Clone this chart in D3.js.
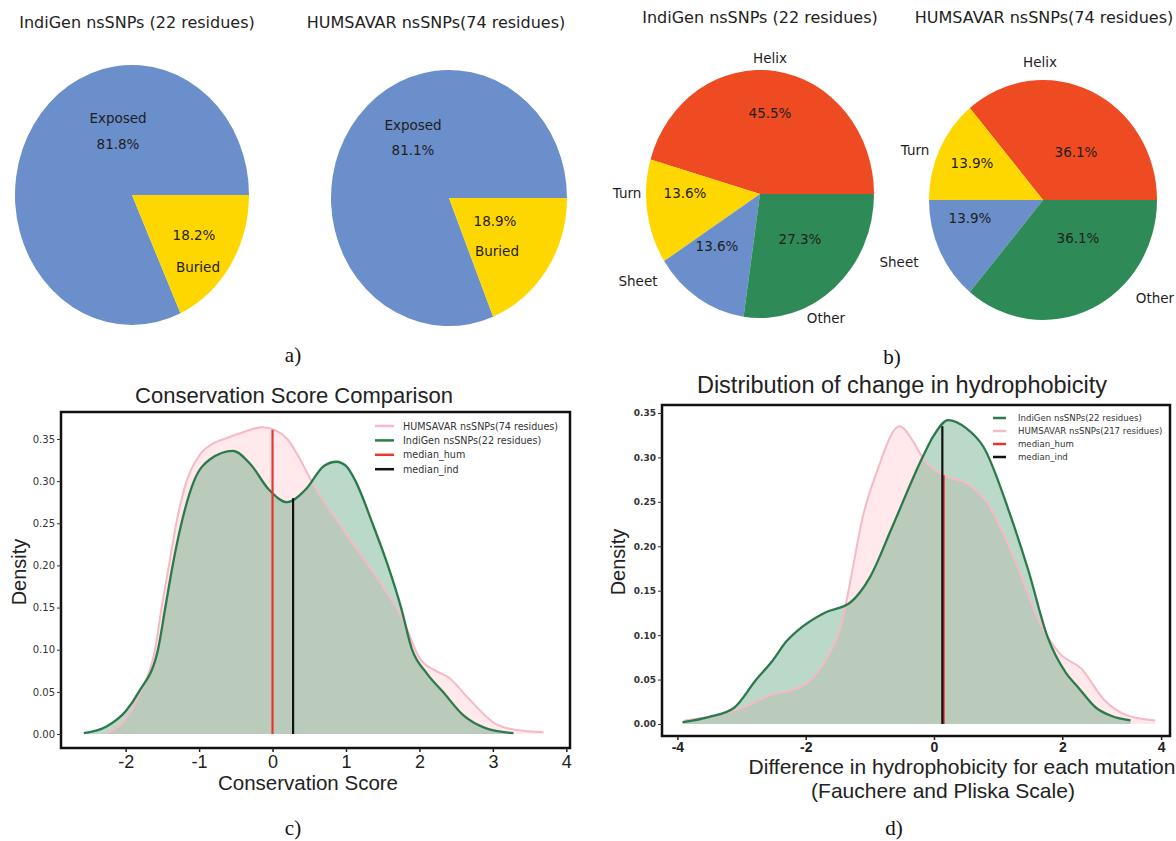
<!DOCTYPE html>
<html>
<head>
<meta charset="utf-8">
<script src="https://cdn.jsdelivr.net/npm/d3@7"></script>
<style>
  body { margin: 0; background: #fff; }
  svg { display: block; }
</style>
</head>
<body>
<svg id="fig" width="1176" height="841"></svg>
<script>
// ---- data ----
const exposureLabels = ['Exposed', 'Buried']
const exposureIndiGen = [81.8, 18.2]
const exposureHumsavar = [81.1, 18.9]

const structureLabels = ['Helix', 'Turn', 'Sheet', 'Other']
const structureIndiGen = [45.5, 13.6, 13.6, 27.3]
const structureHumsavar = [36.1, 13.9, 13.9, 36.1]

// conservation score densities [score, density]
const consHumsavar = [
  [-2.25, 0.002], [-2.08, 0.01], [-1.93, 0.027], [-1.8, 0.05], [-1.6, 0.10],
  [-1.51, 0.15], [-1.41, 0.20], [-1.31, 0.25], [-1.17, 0.30], [-1.0, 0.33],
  [-0.8, 0.345], [-0.66, 0.35], [-0.4, 0.358], [-0.14, 0.364], [0.05, 0.36],
  [0.2, 0.35], [0.43, 0.317], [0.53, 0.30], [0.95, 0.244], [1.46, 0.18],
  [1.78, 0.135], [2.0, 0.09], [2.2, 0.076], [2.4, 0.067], [2.66, 0.043],
  [3.02, 0.013], [3.3, 0.005], [3.69, 0.002]
]
const consIndiGen = [
  [-2.57, 0.001], [-2.26, 0.009], [-2.0, 0.027], [-1.82, 0.05], [-1.56, 0.10],
  [-1.46, 0.15], [-1.36, 0.20], [-1.24, 0.25], [-1.07, 0.30], [-0.85, 0.326],
  [-0.54, 0.336], [-0.3, 0.32], [-0.05, 0.29], [0.2, 0.275], [0.45, 0.29],
  [0.7, 0.318], [0.87, 0.323], [1.0, 0.318], [1.13, 0.30], [1.36, 0.25],
  [1.57, 0.20], [1.75, 0.15], [1.9, 0.10], [2.1, 0.072], [2.32, 0.05],
  [2.6, 0.022], [2.9, 0.007], [3.28, 0.001]
]
const consMedians = [0.0, 0.28] // median_hum, median_ind

// hydrophobicity change densities [difference, density]
const hydroIndiGen = [
  [-3.92, 0.002], [-3.5, 0.008], [-3.12, 0.018], [-2.77, 0.05], [-2.53, 0.07],
  [-2.3, 0.093], [-2.06, 0.109], [-1.71, 0.125], [-1.3, 0.137], [-1.0, 0.165],
  [-0.65, 0.222], [-0.18, 0.30], [0.0, 0.325], [0.22, 0.342], [0.5, 0.333],
  [0.77, 0.312], [1.18, 0.237], [1.47, 0.173], [1.77, 0.098], [2.08, 0.057],
  [2.31, 0.042], [2.69, 0.018], [3.0, 0.009], [3.38, 0.004]
]
const hydroHumsavar = [
  [-3.89, 0.004], [-3.59, 0.007], [-3.0, 0.018], [-2.53, 0.033], [-2.07, 0.042],
  [-1.83, 0.057], [-1.59, 0.085], [-1.47, 0.105], [-1.36, 0.14], [-1.28, 0.17],
  [-1.12, 0.23], [-0.88, 0.286], [-0.54, 0.335], [-0.3, 0.315], [-0.18, 0.30],
  [0.15, 0.28], [0.53, 0.27], [0.83, 0.249], [1.24, 0.188], [1.65, 0.114],
  [1.95, 0.08], [2.39, 0.062], [2.85, 0.027], [3.3, 0.010], [3.88, 0.004]
]
const hydroMedians = [0.15, 0.13] // median_hum, median_ind

const densityTicks = [0, 0.05, 0.10, 0.15, 0.20, 0.25, 0.30, 0.35]
const consTicks = [-2, -1, 0, 1, 2, 3, 4]
const hydroTicks = [-4, -2, 0, 2, 4]

// ---- colours ----
const blue = '#6b8fca'
const gold = '#fed700'
const red = '#ef4b22'
const green = '#2e8b57'
const lineGreen = '#2b7a4b'
const linePink = '#f6b9c5'

const svg = d3.select('#fig')
const sans = 'DejaVu Sans, sans-serif'
const arial = 'Liberation Sans, Arial, sans-serif'
const serif = 'Liberation Serif, Times New Roman, serif'

function drawPie(values, labels, colors, box) {
  const R = 100
  const pie = d3.pie().sort(null)
    .startAngle(Math.PI / 2)
    .endAngle(Math.PI / 2 - 2 * Math.PI)
  const arc = d3.arc().innerRadius(0).outerRadius(R)

  const g = svg.append('g')
    .attr('transform', `translate(${box.cx},${box.cy})`)

  g.append('g')
    .attr('transform', `scale(${box.rx / R},${box.ry / R})`)
    .selectAll('path')
    .data(pie(values))
    .join('path')
    .attr('d', arc)
    .attr('fill', (d, i) => colors[i])

  const txt = g.append('g')
    .attr('font-family', sans)
    .attr('font-size', 13.5)
    .attr('fill', '#1e1e1e')
    .attr('text-anchor', 'middle')
    .attr('dominant-baseline', 'central')

  labels.forEach((name, i) => {
    txt.append('text')
      .attr('x', box.names[i][0]).attr('y', box.names[i][1])
      .text(name)
    txt.append('text')
      .attr('x', box.pcts[i][0]).attr('y', box.pcts[i][1])
      .text(values[i].toFixed(1) + '%')
  })

  svg.append('text')
    .attr('x', box.cx + box.titleDx).attr('y', box.titleY)
    .attr('text-anchor', 'middle')
    .attr('font-family', sans)
    .attr('font-size', 16)
    .attr('fill', '#222')
    .text(box.title)
}

// a) exposure pies
drawPie(exposureIndiGen, exposureLabels, [blue, gold], {
  cx: 132, cy: 195, rx: 117, ry: 130,
  names: [[-14, -77], [66, 72]], pcts: [[-14, -51], [62, 40]],
  title: 'IndiGen nsSNPs (22 residues)', titleDx: 5, titleY: 28
})
drawPie(exposureHumsavar, exposureLabels, [blue, gold], {
  cx: 449, cy: 198, rx: 118, ry: 128,
  names: [[-36, -73], [48, 53]], pcts: [[-36, -48], [46, 23]],
  title: 'HUMSAVAR nsSNPs(74 residues)', titleDx: -13, titleY: 28
})

// b) secondary structure pies
drawPie(structureIndiGen, structureLabels, [red, gold, blue, green], {
  cx: 760, cy: 194, rx: 114, ry: 124,
  names: [[10, -136], [-133, -1], [-122, 87], [66, 124]],
  pcts: [[10, -81], [-75, -1], [-43, 52], [40, 45]],
  title: 'IndiGen nsSNPs (22 residues)', titleDx: 0, titleY: 23
})
drawPie(structureHumsavar, structureLabels, [red, gold, blue, green], {
  cx: 1043, cy: 200, rx: 114, ry: 120,
  names: [[-3, -138], [-128, -50], [-144, 62], [112, 98]],
  pcts: [[33, -48], [-71, -37], [-73, 18], [35, 38]],
  title: 'HUMSAVAR nsSNPs(74 residues)', titleDx: 1, titleY: 23
})

function densityAt(values, v) {
  const i = d3.bisector(d => d[0]).left(values, v)
  if (i <= 0) return values[0][1]
  if (i >= values.length) return values[values.length - 1][1]
  const a = values[i - 1], b = values[i]
  return a[1] + (b[1] - a[1]) * (v - a[0]) / (b[0] - a[0])
}

function drawDensity(cfg) {
  const { x, y, frame } = cfg
  const g = svg.append('g')

  const area = d3.area()
    .x(d => x(d[0])).y0(y(0)).y1(d => y(d[1]))
    .curve(d3.curveMonotoneX)
  const line = d3.line()
    .x(d => x(d[0])).y(d => y(d[1]))
    .curve(d3.curveMonotoneX)

  // fills first, then the outlines on top of both
  cfg.series.forEach(s => {
    g.append('path').datum(s.values)
      .attr('d', area)
      .attr('fill', s.fill)
  })
  cfg.series.forEach(s => {
    g.append('path').datum(s.values)
      .attr('d', line)
      .attr('fill', 'none')
      .attr('stroke', s.stroke)
      .attr('stroke-width', s.width)
  })

  cfg.medians.forEach(m => {
    g.append('line')
      .attr('x1', x(m.value)).attr('x2', x(m.value))
      .attr('y1', y(0)).attr('y2', y(densityAt(m.curve, m.value)))
      .attr('stroke', m.color)
      .attr('stroke-width', 2.2)
  })

  // frame
  g.append('rect')
    .attr('x', frame.x0).attr('y', frame.y0)
    .attr('width', frame.x1 - frame.x0).attr('height', frame.y1 - frame.y0)
    .attr('fill', 'none')
    .attr('stroke', '#111')
    .attr('stroke-width', 2.5)

  // y axis
  const ya = g.append('g')
    .attr('transform', `translate(${frame.x0},0)`)
    .call(d3.axisLeft(y).tickValues(densityTicks).tickFormat(d3.format('.2f')).tickSize(4).tickPadding(2))
  ya.select('.domain').remove()
  ya.selectAll('text')
    .attr('font-family', sans)
    .attr('font-size', cfg.yTickSize)
    .attr('font-weight', cfg.yTickWeight)
    .attr('fill', '#333')
  ya.selectAll('line').attr('stroke', '#333')

  // x axis
  const xa = g.append('g')
    .attr('transform', `translate(0,${frame.y1})`)
    .call(d3.axisBottom(x).tickValues(cfg.xTicks).tickFormat(d => String(d)).tickSize(4).tickPadding(cfg.xTickPad))
  xa.select('.domain').remove()
  xa.selectAll('text')
    .attr('font-family', arial)
    .attr('font-size', cfg.xTickSize)
    .attr('font-weight', cfg.xTickWeight)
    .attr('fill', '#222')
  xa.selectAll('line').attr('stroke', '#222').attr('stroke-width', 1.5)

  // legend
  const lg = g.append('g')
    .attr('font-family', sans)
    .attr('font-size', cfg.legend.size)
    .attr('fill', '#333')
  cfg.legend.items.forEach((it, i) => {
    const ly = cfg.legend.y + i * cfg.legend.step
    lg.append('line')
      .attr('x1', cfg.legend.x).attr('x2', cfg.legend.x + cfg.legend.len)
      .attr('y1', ly).attr('y2', ly)
      .attr('stroke', it.color)
      .attr('stroke-width', 2.5)
    lg.append('text')
      .attr('x', cfg.legend.x + cfg.legend.len + cfg.legend.gap).attr('y', ly)
      .attr('dominant-baseline', 'central')
      .text(it.label)
  })

  // titles
  svg.append('text')
    .attr('x', cfg.title.x).attr('y', cfg.title.y)
    .attr('text-anchor', 'middle')
    .attr('font-family', arial)
    .attr('font-size', cfg.title.size)
    .attr('fill', '#222')
    .text(cfg.title.text)

  svg.append('text')
    .attr('transform', `translate(${cfg.ylabel.x},${cfg.ylabel.y}) rotate(-90)`)
    .attr('text-anchor', 'middle')
    .attr('dominant-baseline', 'central')
    .attr('font-family', arial)
    .attr('font-size', 20)
    .attr('fill', '#222')
    .text('Density')

  cfg.xlabel.forEach(l => {
    svg.append('text')
      .attr('x', l.x).attr('y', l.y)
      .attr('text-anchor', 'middle')
      .attr('dominant-baseline', 'central')
      .attr('font-family', arial)
      .attr('font-size', l.size)
      .attr('fill', '#222')
      .text(l.text)
  })
}

const pinkFill = 'rgba(255,182,193,0.3)'
const greenFill = 'rgba(46,139,87,0.33)'

// c) conservation score
const xc = d3.scaleLinear().domain([-2.88, 4.05]).range([61, 570])
const yc = d3.scaleLinear().domain([-0.0166, 0.382]).range([748, 412])
drawDensity({
  x: xc, y: yc,
  frame: { x0: 61, x1: 570, y0: 412, y1: 748 },
  series: [
    { values: consHumsavar, fill: pinkFill, stroke: linePink, width: 2 },
    { values: consIndiGen, fill: greenFill, stroke: lineGreen, width: 2.3 }
  ],
  medians: [
    { value: consMedians[0], curve: consHumsavar, color: '#e8362f' },
    { value: consMedians[1], curve: consIndiGen, color: '#111' }
  ],
  xTicks: consTicks, xTickSize: 18, xTickWeight: 'normal', xTickPad: 3,
  yTickSize: 10, yTickWeight: 'normal',
  legend: {
    x: 375, y: 426, step: 14.4, len: 19, gap: 9, size: 9.6,
    items: [
      { label: 'HUMSAVAR nsSNPs(74 residues)', color: linePink },
      { label: 'IndiGen nsSNPs(22 residues)', color: lineGreen },
      { label: 'median_hum', color: '#e8362f' },
      { label: 'median_ind', color: '#111' }
    ]
  },
  title: { text: 'Conservation Score Comparison', x: 294, y: 403, size: 22 },
  ylabel: { x: 19, y: 572 },
  xlabel: [{ text: 'Conservation Score', x: 308, y: 782, size: 20.5 }]
})

// d) hydrophobicity change (tick spacing narrows past 2 in the original)
const xd = d3.scaleLinear().domain([-4.24, 2, 4.18]).range([662, 1062.3, 1170])
const yd = d3.scaleLinear().domain([-0.0135, 0.359]).range([736, 405])
drawDensity({
  x: xd, y: yd,
  frame: { x0: 662, x1: 1170, y0: 405, y1: 736 },
  series: [
    { values: hydroHumsavar, fill: pinkFill, stroke: linePink, width: 2 },
    { values: hydroIndiGen, fill: greenFill, stroke: lineGreen, width: 2.3 }
  ],
  medians: [
    { value: hydroMedians[0], curve: hydroHumsavar, color: '#e8362f' },
    { value: hydroMedians[1], curve: hydroIndiGen, color: '#111' }
  ],
  xTicks: hydroTicks, xTickSize: 14, xTickWeight: 'bold', xTickPad: 2,
  yTickSize: 9, yTickWeight: 'bold',
  legend: {
    x: 993, y: 418, step: 13, len: 13, gap: 12, size: 8.6,
    items: [
      { label: 'IndiGen nsSNPs(22 residues)', color: lineGreen },
      { label: 'HUMSAVAR nsSNPs(217 residues)', color: linePink },
      { label: 'median_hum', color: '#e8362f' },
      { label: 'median_ind', color: '#111' }
    ]
  },
  title: { text: 'Distribution of change in hydrophobicity', x: 902, y: 393, size: 23.5 },
  ylabel: { x: 618, y: 562 },
  xlabel: [
    { text: 'Difference in hydrophobicity for each mutation', x: 962, y: 766, size: 21 },
    { text: '(Fauchere and Pliska Scale)', x: 943, y: 790, size: 21 }
  ]
})

// panel letters
const letters = [['a)', 293, 355], ['b)', 892, 357], ['c)', 293, 828], ['d)', 894, 828]]
svg.selectAll('text.panel')
  .data(letters)
  .join('text')
  .attr('class', 'panel')
  .attr('x', d => d[1]).attr('y', d => d[2])
  .attr('text-anchor', 'middle')
  .attr('dominant-baseline', 'central')
  .attr('font-family', serif)
  .attr('font-size', 21)
  .attr('fill', '#111')
  .text(d => d[0])
</script>
</body>
</html>
